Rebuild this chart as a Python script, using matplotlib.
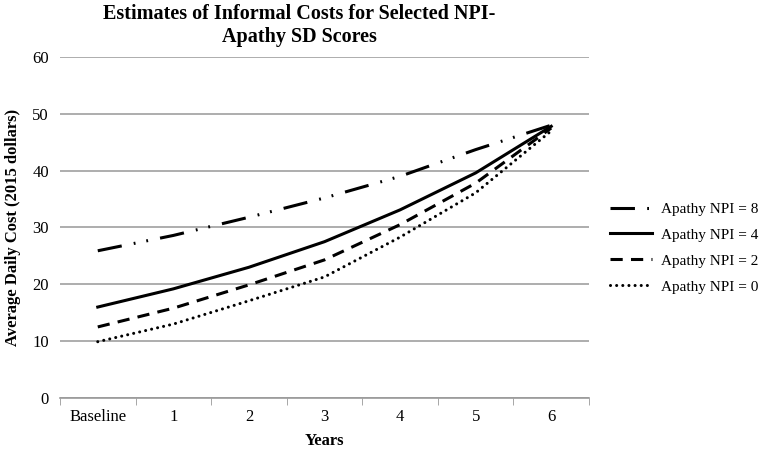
import matplotlib.pyplot as plt

# valores
years = ["Baseline", "1", "2", "3", "4", "5", "6"]
npi8 = [25.9, 28.6, 31.8, 35.2, 39.0, 43.7, 48.0]
npi4 = [16.0, 19.2, 23.0, 27.5, 33.1, 39.6, 47.8]
npi2 = [12.5, 15.8, 19.9, 24.3, 30.5, 37.8, 47.5]
npi0 = [9.9, 13.0, 17.1, 21.3, 28.3, 36.1, 47.0]

plt.rcParams['font.family'] = ['Liberation Serif', 'DejaVu Serif']

fig = plt.figure(figsize=(7.62, 4.61), dpi=100)
ax = fig.add_axes([0.0787, 0.1367, 0.6943, 0.7397])

x = list(range(len(years)))
ax.plot(x, npi8, color='black', lw=2.2, dashes=(8, 4, 0.6, 3.6, 0.6, 4), label='Apathy NPI = 8')
ax.plot(x, npi4, color='black', lw=2.2, label='Apathy NPI = 4')
ax.plot(x, npi2, color='black', lw=2.2, dashes=(4, 2.7), label='Apathy NPI = 2')
ax.plot(x, npi0, color='black', lw=2.2, dashes=(0.01, 2.0), dash_capstyle='round', label='Apathy NPI = 0')

ax.set_xlim(-0.5, 6.5)
ax.set_ylim(0, 60)
ax.set_yticks(range(0, 61, 10))
ax.set_xticks(x)
ax.set_xticklabels(years)
ax.set_xticks([i - 0.5 for i in range(8)], minor=True)
ax.tick_params(axis='x', which='major', length=0, labelsize=12, pad=8)
ax.tick_params(axis='x', which='minor', length=5, color='#999999', direction='out')
ax.tick_params(axis='y', length=0, labelsize=12, pad=8)
ax.grid(axis='y', color='#a0a0a0', lw=1.2)
ax.set_axisbelow(True)
for s in ['top', 'right', 'left']:
    ax.spines[s].set_visible(False)
ax.spines['bottom'].set_color('#999999')
ax.spines['bottom'].set_linewidth(1.2)

ax.set_xlabel('Years', fontsize=12, fontweight='bold', labelpad=6)
ax.set_ylabel('Average Daily Cost (2015 dollars)', fontsize=12, fontweight='bold', labelpad=8)
ax.set_title('Estimates of Informal Costs for Selected NPI-\nApathy SD Scores', fontsize=14.5,
             fontweight='bold', x=0.452, pad=11)

ax.legend(loc='center left', bbox_to_anchor=(1.04, 0.44), frameon=False, fontsize=11,
          handlelength=2.75, labelspacing=0.8, handletextpad=0.55, borderpad=0, borderaxespad=0)

fig.savefig('out.png', dpi=100)
